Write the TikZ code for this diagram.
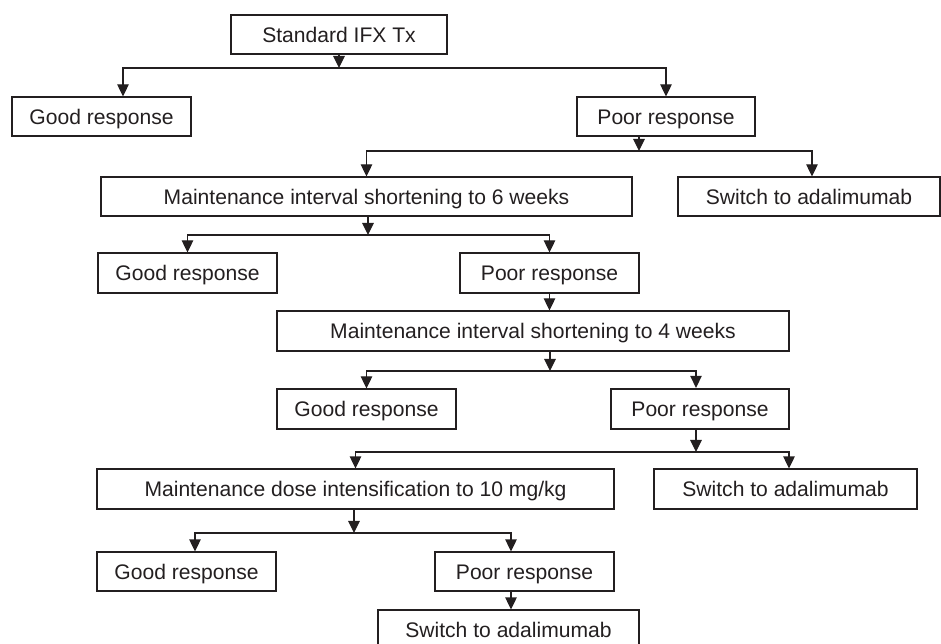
\documentclass[tikz,border=0pt]{standalone}
\usepackage{fontspec}
\setmainfont{Liberation Sans}
\usetikzlibrary{arrows.meta}
\definecolor{ink}{RGB}{35,31,32}

\begin{document}
\begin{tikzpicture}[x=0.02cm,y=-0.02cm,
        box/.style={draw=ink,line width=0.7pt,rectangle,inner sep=0pt,minimum height=0.78cm,text height=8.6pt,text depth=0pt,text=ink,font=\fontsize{12}{14}\selectfont},
        arr/.style={draw=ink,line width=0.7pt,-{Triangle[length=2.4mm,width=2.3mm]}}]

        \useasboundingbox (0,0) rectangle (941,644);

        \node[box,minimum width=4.32cm] (std) at (339,34.5) {Standard IFX Tx};
        \node[box,minimum width=3.58cm] (good1) at (101.5,116.5) {Good response};
        \node[box,minimum width=3.56cm] (poor1) at (666,116.5) {Poor response};
        \node[box,minimum width=10.62cm] (int6) at (366.5,196.5) {Maintenance interval shortening to 6 weeks};
        \node[box,minimum width=5.24cm] (switch1) at (809,196.5) {Switch to adalimumab};
        \node[box,minimum width=3.58cm,minimum height=0.8cm] (good2) at (187.5,273) {Good response};
        \node[box,minimum width=3.58cm,minimum height=0.8cm] (poor2) at (549.5,273) {Poor response};
        \node[box,minimum width=10.24cm,minimum height=0.8cm] (int4) at (533,331) {Maintenance interval shortening to 4 weeks};
        \node[box,minimum width=3.58cm,minimum height=0.8cm] (good3) at (366.5,409) {Good response};
        \node[box,minimum width=3.56cm,minimum height=0.8cm,line width=1.3pt] (poor3) at (700,409) {Poor response};
        \node[box,minimum width=10.34cm,minimum height=0.8cm] (dose) at (355.5,489) {Maintenance dose intensification to 10 mg/kg};
        \node[box,minimum width=5.26cm,minimum height=0.8cm] (switch2) at (785.5,489) {Switch to adalimumab};
        \node[box,minimum width=3.58cm] (good4) at (186.5,571.5) {Good response};
        \node[box,minimum width=3.58cm] (poor4) at (524.5,571.5) {Poor response};
        \node[box,minimum width=5.22cm,minimum height=0.8cm] (switch3) at (508.5,630) {Switch to adalimumab};

        % branch points on the horizontal bars
        \coordinate (j1) at (339,68);
        \coordinate (j2) at (639,151);
        \coordinate (j3) at (368,235);
        \coordinate (j4) at (550,371);
        \coordinate (j5) at (696,452);
        \coordinate (j6) at (354,533);

        \draw[arr] (std.south) -- (j1);
        \draw[arr] (j1) -| ([xshift=0.43cm]good1.north);
        \draw[arr] (j1) -| (poor1.north);

        \draw[arr] (poor1.south -| j2) -- (j2);
        \draw[arr] (j2) -| (int6.north);
        \draw[arr] (j2) -| ([xshift=0.06cm]switch1.north);

        \draw[arr] (int6.south -| j3) -- (j3);
        \draw[arr] (j3) -| (good2.north);
        \draw[arr] (j3) -| (poor2.north);
        \draw[arr] (poor2.south) -- (poor2.south |- int4.north);

        \draw[arr] (int4.south -| j4) -- (j4);
        \draw[arr] (j4) -| (good3.north);
        \draw[arr] (j4) -| ([xshift=-0.08cm]poor3.north);

        \draw[arr] (poor3.south -| j5) -- (j5);
        \draw[arr] (j5) -| (dose.north);
        \draw[arr] (j5) -| ([xshift=0.07cm]switch2.north);

        \draw[arr] (dose.south -| j6) -- (j6);
        \draw[arr] (j6) -| ([xshift=0.17cm]good4.north);
        \draw[arr] (j6) -| ([xshift=-0.27cm]poor4.north);
        \draw[arr] ([xshift=-0.27cm]poor4.south) -- ([xshift=-0.27cm]poor4.south |- switch3.north);
    \end{tikzpicture}
\end{document}
